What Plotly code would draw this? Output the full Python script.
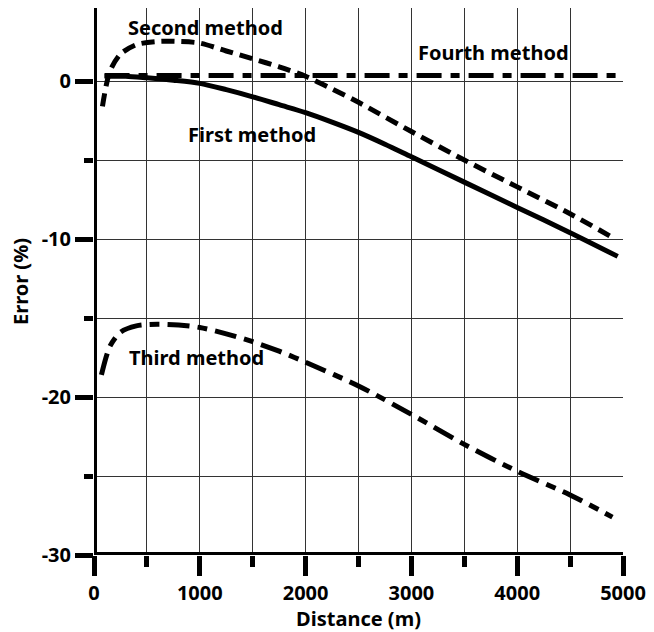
import plotly.graph_objects as go

# Data
first_x = [100, 300, 500, 750, 1000, 1250, 1500, 1750, 2000, 2250, 2500, 2750, 3000, 3500, 4000, 4500, 4950]
first_y = [0.3, 0.3, 0.2, 0.05, -0.15, -0.55, -1.0, -1.5, -2.0, -2.6, -3.25, -4.0, -4.8, -6.4, -8.0, -9.6, -11.1]

second_x = [80, 150, 250, 400, 600, 800, 1000, 1250, 1500, 1750, 2000, 2250, 2500, 3000, 3500, 4000, 4500, 4900]
second_y = [-1.6, 0.6, 1.7, 2.3, 2.5, 2.5, 2.4, 1.9, 1.4, 0.9, 0.3, -0.5, -1.35, -3.2, -5.0, -6.7, -8.4, -9.9]

third_x = [70, 150, 250, 400, 600, 800, 1000, 1250, 1500, 1750, 2000, 2500, 3000, 3500, 4000, 4500, 4900]
third_y = [-18.6, -16.8, -15.9, -15.5, -15.4, -15.45, -15.6, -16.0, -16.5, -17.1, -17.8, -19.3, -21.1, -23.0, -24.7, -26.2, -27.6]

fourth_x = [100, 1000, 2000, 3000, 4000, 4980]
fourth_y = [0.35, 0.35, 0.35, 0.35, 0.35, 0.35]

x_ticks = [0, 1000, 2000, 3000, 4000, 5000]
y_ticks = [0, -10, -20, -30]

labels = [
    ("Second method", 1054, 3.4),
    ("Fourth method", 3772, 1.8),
    ("First method", 1495, -3.4),
    ("Third method", 970, -17.5),
]

FONT = "Noto Sans"
FS = 20

fig = go.Figure()
fig.add_trace(go.Scatter(x=first_x, y=first_y, mode="lines", line=dict(color="black", width=5, shape="spline", smoothing=0.8), name="First method"))
fig.add_trace(go.Scatter(x=second_x, y=second_y, mode="lines", line=dict(color="black", width=5, dash="13px,7px", shape="spline", smoothing=0.8), name="Second method"))
fig.add_trace(go.Scatter(x=third_x, y=third_y, mode="lines", line=dict(color="black", width=5, dash="22px,8px,10px,8px", shape="spline", smoothing=0.8), name="Third method"))
fig.add_trace(go.Scatter(x=fourth_x, y=fourth_y, mode="lines", line=dict(color="black", width=5, dash="25px,9px,9px,9px"), name="Fourth method"))

for text, x, y in labels:
    fig.add_annotation(x=x, y=y, text=text, showarrow=False,
                       font=dict(family=FONT, size=FS, color="black", weight="bold"))

# axis lines
fig.add_shape(type="line", xref="x", yref="y", x0=0, x1=0, y0=-30, y1=4.62, line=dict(color="black", width=6))
fig.add_shape(type="line", xref="x", yref="y", x0=0, x1=5000, y0=-30, y1=-30, line=dict(color="black", width=6))

fig.update_layout(
    width=654, height=632,
    margin=dict(l=94, r=26, t=8, b=77),
    plot_bgcolor="white", paper_bgcolor="white",
    showlegend=False,
    font=dict(family=FONT, size=FS, color="black", weight="bold"),
)
fig.update_xaxes(
    range=[0, 5000], tickvals=x_ticks, ticktext=[str(v) for v in x_ticks],
    ticks="outside", ticklen=20, tickwidth=5, tickcolor="black",
    showgrid=True, gridcolor="#333", gridwidth=1,
    minor=dict(dtick=500, tick0=0, ticks="outside", ticklen=11, tickwidth=5, tickcolor="black", showgrid=True, gridcolor="#333", gridwidth=1),
    zeroline=False, showline=False,
    tickfont=dict(family=FONT, size=FS, weight="bold"),
    title=dict(text="Distance (m)", font=dict(family=FONT, size=FS, weight="bold"), standoff=4),
)
fig.update_yaxes(
    range=[-30, 4.62], tickvals=y_ticks, ticktext=[str(v) for v in y_ticks],
    ticks="outside", ticklen=18, tickwidth=5, tickcolor="black",
    showgrid=True, gridcolor="#333", gridwidth=1,
    minor=dict(dtick=5, tick0=0, ticks="outside", ticklen=9, tickwidth=5, tickcolor="black", showgrid=True, gridcolor="#333", gridwidth=1),
    zeroline=False, showline=False,
    tickfont=dict(family=FONT, size=FS, weight="bold"),
    title=dict(text="Error (%)", font=dict(family=FONT, size=FS, weight="bold"), standoff=7),
)

fig.write_html("out.html")
